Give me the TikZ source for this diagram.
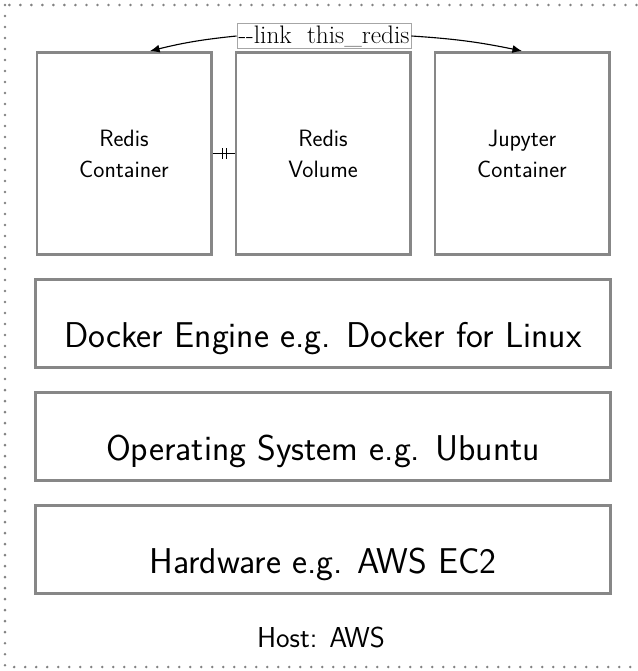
\documentclass[tikz,border=0pt]{standalone}
\usepackage{xcolor}
\usepackage{tikz}
\usetikzlibrary{arrows.meta,positioning,decorations.markings}
\definecolor{cinzaBorda}{RGB}{135,135,135}
\definecolor{cinzaPonto}{RGB}{130,130,130}
\tikzset{
    bloco/.style={
        rectangle,
        draw=cinzaBorda,
        line width=2.1pt,
        align=center,
        font=\sffamily
    },
    container/.style={
        bloco,
        minimum width=4.35cm,
        minimum height=5.05cm,
        font=\sffamily\fontsize{16.8}{22}\selectfont
    },
    camada/.style={
        bloco,
        minimum width=14.35cm,
        minimum height=2.2cm,
        text height=1.3cm,
        text depth=0.08cm,
        font=\sffamily\fontsize{25.5}{30}\selectfont
    },
    rotuloLink/.style={
        draw=black!35,
        line width=0.5pt,
        fill=white,
        inner sep=1.2pt,
        font=\fontsize{18}{20}\selectfont
    },
    seta/.style={-{Latex[length=2.4mm,width=2mm]}, line width=0.8pt},
    ligacao/.style={
        line width=0.6pt,
        postaction={decorate},
        decoration={markings,
            mark=at position 0.45 with {\draw[line width=0.7pt] (0,-0.13cm) -- (0,0.13cm);},
            mark=at position 0.62 with {\draw[line width=0.7pt] (0,-0.13cm) -- (0,0.13cm);}}
    },
    moldura/.style={
        draw=cinzaPonto,
        line width=2pt,
        line cap=round,
        dash pattern=on 0pt off 0.275cm
    }
}

\begin{document}
\begin{tikzpicture}[x=0.025cm, y=-0.025cm, node distance=0.55cm and 0.55cm]
    \useasboundingbox (0,0) rectangle (638,671);
    \draw[moldura] (5,5) rectangle (660,667);

    \node[container] (rcont) at (124,153.5) {Redis\\Container};
    \node[container, right=of rcont] (rvol) {Redis\\Volume};
    \node[container, right=of rvol] (jcont) {Jupyter\\Container};

    \node[camada, below=of rvol] (docker) {Docker Engine e.g. Docker for Linux};
    \node[camada, below=of docker] (so) {Operating System e.g. Ubuntu};
    \node[camada, below=of so] (hw) {Hardware e.g. AWS EC2};

    \node[font=\sffamily\fontsize{20.5}{24}\selectfont] (host) at (321,637) {Host: AWS};

    \node[rotuloLink] (link) at (324,36) {{-}{-}link~~this\_redis};

    \draw[seta] (link.west) to[bend right=4] ([xshift=0.65cm]rcont.north);
    \draw[seta] (link.east) to[bend left=4] (jcont.north);
    \draw[ligacao] (rcont.east) -- (rvol.west);
\end{tikzpicture}
\end{document}
